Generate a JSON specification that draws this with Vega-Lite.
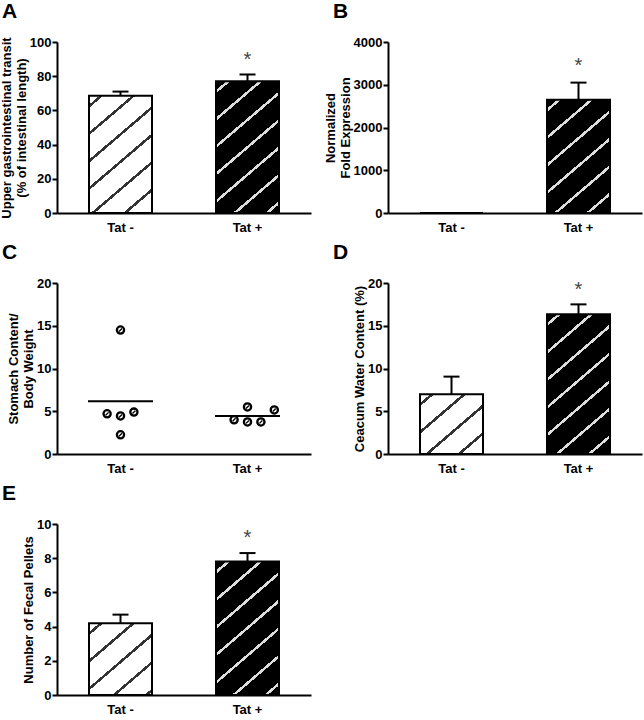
{
  "$schema": "https://vega.github.io/schema/vega-lite/v6.json",
  "padding": {"left": 0, "top": 1, "right": 5, "bottom": 0},
  "columns": 2,
  "align": "all",
  "spacing": {"row": 8, "column": 13},
  "config": {
    "view": {"stroke": null},
    "font": "Liberation Sans",
    "axis": {"domainColor": "black", "domainWidth": 2, "tickColor": "black", "tickWidth": 2, "tickSize": 5, "labelFont": "Liberation Sans", "labelFontWeight": "bold", "labelFontSize": 13, "labelColor": "black", "titleFont": "Liberation Sans", "titleFontWeight": "bold", "titleFontSize": 13, "titleLineHeight": 15, "titleColor": "black", "grid": false, "labelOverlap": false},
    "axisX": {"ticks": false, "labelAngle": 0, "labelPadding": 8, "title": null},
    "axisY": {"labelPadding": 1, "titlePadding": 1, "tickCount": 11},
    "title": {"font": "Liberation Sans", "fontSize": 21, "fontWeight": "bold", "anchor": "start", "frame": "group", "dx": -55, "offset": 14, "color": "black"}
  },
  "concat": [
    {
      "width": 254, "height": 171,
      "title": {"text": "A"},
      "data": {"values": [{"group": "Tat -", "mean": 68.5, "hi": 71}, {"group": "Tat +", "mean": 77, "hi": 81, "star": 89.5}]},
      "encoding": {"x": {"field": "group", "type": "nominal", "sort": ["Tat -", "Tat +"], "scale": {"type": "band", "paddingInner": 0.5, "paddingOuter": 0.25}, "axis": {"title": null}}},
      "layer": [
        {"mark": {"type": "bar", "stroke": "black", "strokeWidth": 2, "width": 63},
         "encoding": {
           "y": {"field": "mean", "type": "quantitative", "scale": {"domain": [0, 100]}, "axis": {"values": [0, 20, 40, 60, 80, 100], "tickCount": 11, "title": ["Upper gastrointestinal transit", "(% of intestinal length)"]}},
           "fill": {"condition": {"test": "datum.group === 'Tat -'", "value": {"gradient": "linear", "x1": 0, "y1": 0, "x2": 0.6346, "y2": 1.3821, "stops": [{"offset":0,"color":"#fff"},{"offset":0.045,"color":"#fff"},{"offset":0.045,"color":"#333"},{"offset":0.062,"color":"#333"},{"offset":0.062,"color":"#fff"},{"offset":0.185,"color":"#fff"},{"offset":0.185,"color":"#333"},{"offset":0.202,"color":"#333"},{"offset":0.202,"color":"#fff"},{"offset":0.325,"color":"#fff"},{"offset":0.325,"color":"#333"},{"offset":0.342,"color":"#333"},{"offset":0.342,"color":"#fff"},{"offset":0.465,"color":"#fff"},{"offset":0.465,"color":"#333"},{"offset":0.482,"color":"#333"},{"offset":0.482,"color":"#fff"},{"offset":0.605,"color":"#fff"},{"offset":0.605,"color":"#333"},{"offset":0.622,"color":"#333"},{"offset":0.622,"color":"#fff"},{"offset":0.745,"color":"#fff"},{"offset":0.745,"color":"#333"},{"offset":0.762,"color":"#333"},{"offset":0.762,"color":"#fff"},{"offset":0.885,"color":"#fff"},{"offset":0.885,"color":"#333"},{"offset":0.902,"color":"#333"},{"offset":0.902,"color":"#fff"},{"offset":1,"color":"#fff"}]}},
                    "value": {"gradient": "linear", "x1": 0, "y1": 0, "x2": 0.5201, "y2": 1.2751, "stops": [{"offset":0,"color":"#000"},{"offset":0.045,"color":"#000"},{"offset":0.045,"color":"#ddd"},{"offset":0.062,"color":"#ddd"},{"offset":0.062,"color":"#000"},{"offset":0.185,"color":"#000"},{"offset":0.185,"color":"#ddd"},{"offset":0.202,"color":"#ddd"},{"offset":0.202,"color":"#000"},{"offset":0.325,"color":"#000"},{"offset":0.325,"color":"#ddd"},{"offset":0.342,"color":"#ddd"},{"offset":0.342,"color":"#000"},{"offset":0.465,"color":"#000"},{"offset":0.465,"color":"#ddd"},{"offset":0.482,"color":"#ddd"},{"offset":0.482,"color":"#000"},{"offset":0.605,"color":"#000"},{"offset":0.605,"color":"#ddd"},{"offset":0.622,"color":"#ddd"},{"offset":0.622,"color":"#000"},{"offset":0.745,"color":"#000"},{"offset":0.745,"color":"#ddd"},{"offset":0.762,"color":"#ddd"},{"offset":0.762,"color":"#000"},{"offset":0.885,"color":"#000"},{"offset":0.885,"color":"#ddd"},{"offset":0.902,"color":"#ddd"},{"offset":0.902,"color":"#000"},{"offset":1,"color":"#000"}]}}
         }},
        {"transform": [{"filter": "isValid(datum.hi)"}], "mark": {"type": "rule", "strokeWidth": 2, "color": "black"}, "encoding": {"y": {"field": "mean", "type": "quantitative"}, "y2": {"field": "hi"}}},
        {"transform": [{"filter": "isValid(datum.hi)"}], "mark": {"type": "point", "shape": "M-1,0L1,0", "filled": false, "stroke": "black", "strokeWidth": 2, "size": 256, "opacity": 1}, "encoding": {"y": {"field": "hi", "type": "quantitative"}}},
        {"transform": [{"filter": "isValid(datum.star)"}], "mark": {"type": "text", "text": "*", "fontSize": 20, "color": "#444", "baseline": "middle"}, "encoding": {"y": {"field": "star", "type": "quantitative"}}}
      ]
    },
    {
      "width": 254, "height": 171,
      "title": {"text": "B"},
      "data": {"values": [{"group": "Tat -", "mean": 0}, {"group": "Tat +", "mean": 2650, "hi": 3050, "star": 3450}]},
      "encoding": {"x": {"field": "group", "type": "nominal", "sort": ["Tat -", "Tat +"], "scale": {"type": "band", "paddingInner": 0.5, "paddingOuter": 0.25}, "axis": {"title": null}}},
      "layer": [
        {"mark": {"type": "bar", "stroke": "black", "strokeWidth": 2, "width": 63},
         "encoding": {
           "y": {"field": "mean", "type": "quantitative", "scale": {"domain": [0, 4000]}, "axis": {"values": [0, 1000, 2000, 3000, 4000], "tickCount": 11, "format": "d", "title": ["Normalized", "Fold Expression"]}},
           "fill": {"condition": {"test": "datum.group === 'Tat -'", "value": "#fff"},
                    "value": {"gradient": "linear", "x1": 0, "y1": 0, "x2": 0.6720, "y2": 1.4136, "stops": [{"offset":0,"color":"#000"},{"offset":0.045,"color":"#000"},{"offset":0.045,"color":"#ddd"},{"offset":0.062,"color":"#ddd"},{"offset":0.062,"color":"#000"},{"offset":0.185,"color":"#000"},{"offset":0.185,"color":"#ddd"},{"offset":0.202,"color":"#ddd"},{"offset":0.202,"color":"#000"},{"offset":0.325,"color":"#000"},{"offset":0.325,"color":"#ddd"},{"offset":0.342,"color":"#ddd"},{"offset":0.342,"color":"#000"},{"offset":0.465,"color":"#000"},{"offset":0.465,"color":"#ddd"},{"offset":0.482,"color":"#ddd"},{"offset":0.482,"color":"#000"},{"offset":0.605,"color":"#000"},{"offset":0.605,"color":"#ddd"},{"offset":0.622,"color":"#ddd"},{"offset":0.622,"color":"#000"},{"offset":0.745,"color":"#000"},{"offset":0.745,"color":"#ddd"},{"offset":0.762,"color":"#ddd"},{"offset":0.762,"color":"#000"},{"offset":0.885,"color":"#000"},{"offset":0.885,"color":"#ddd"},{"offset":0.902,"color":"#ddd"},{"offset":0.902,"color":"#000"},{"offset":1,"color":"#000"}]}}
         }},
        {"transform": [{"filter": "isValid(datum.hi)"}], "mark": {"type": "rule", "strokeWidth": 2, "color": "black"}, "encoding": {"y": {"field": "mean", "type": "quantitative"}, "y2": {"field": "hi"}}},
        {"transform": [{"filter": "isValid(datum.hi)"}], "mark": {"type": "point", "shape": "M-1,0L1,0", "filled": false, "stroke": "black", "strokeWidth": 2, "size": 256, "opacity": 1}, "encoding": {"y": {"field": "hi", "type": "quantitative"}}},
        {"transform": [{"filter": "isValid(datum.star)"}], "mark": {"type": "text", "text": "*", "fontSize": 20, "color": "#444", "baseline": "middle"}, "encoding": {"y": {"field": "star", "type": "quantitative"}}}
      ]
    },
    {
      "width": 254, "height": 171,
      "title": {"text": "C"},
      "data": {"values": [
        {"group": "Tat -", "value": 14.5, "slot": 0},
        {"group": "Tat -", "value": 4.7, "slot": -1},
        {"group": "Tat -", "value": 4.45, "slot": 0},
        {"group": "Tat -", "value": 4.9, "slot": 1},
        {"group": "Tat -", "value": 2.25, "slot": 0},
        {"group": "Tat +", "value": 4.0, "slot": -1},
        {"group": "Tat +", "value": 5.5, "slot": 0},
        {"group": "Tat +", "value": 3.75, "slot": 0},
        {"group": "Tat +", "value": 3.75, "slot": 1},
        {"group": "Tat +", "value": 5.15, "slot": 2}
      ]},
      "encoding": {"x": {"field": "group", "type": "nominal", "sort": ["Tat -", "Tat +"], "scale": {"type": "band", "paddingInner": 0.5, "paddingOuter": 0.25}, "axis": {"title": null}}},
      "layer": [
        {"mark": {"type": "tick", "size": 65, "thickness": 2, "color": "black"},
         "encoding": {"y": {"aggregate": "mean", "field": "value", "type": "quantitative", "scale": {"domain": [0, 20]}, "axis": {"values": [0, 5, 10, 15, 20], "tickCount": 11, "title": ["Stomach Content/", "Body Weight"]}}}},
        {"mark": {"type": "point", "shape": "circle", "filled": true, "fill": "white", "stroke": "black", "strokeWidth": 2.3, "size": 52, "opacity": 1},
         "encoding": {"y": {"field": "value", "type": "quantitative"}, "xOffset": {"field": "slot", "type": "quantitative", "scale": {"domain": [-2.37, 2.37], "zero": false, "nice": false}}}},
        {"mark": {"type": "point", "shape": "M-0.4,0.4L0.4,-0.4", "filled": false, "stroke": "black", "strokeWidth": 1.4, "size": 52, "opacity": 1},
         "encoding": {"y": {"field": "value", "type": "quantitative"}, "xOffset": {"field": "slot", "type": "quantitative", "scale": {"domain": [-2.37, 2.37], "zero": false, "nice": false}}}}
      ]
    },
    {
      "width": 254, "height": 171,
      "title": {"text": "D"},
      "data": {"values": [{"group": "Tat -", "mean": 7.0, "hi": 9.05}, {"group": "Tat +", "mean": 16.35, "hi": 17.5, "star": 19.2}]},
      "encoding": {"x": {"field": "group", "type": "nominal", "sort": ["Tat -", "Tat +"], "scale": {"type": "band", "paddingInner": 0.5, "paddingOuter": 0.25}, "axis": {"title": null}}},
      "layer": [
        {"mark": {"type": "bar", "stroke": "black", "strokeWidth": 2, "width": 63},
         "encoding": {
           "y": {"field": "mean", "type": "quantitative", "scale": {"domain": [0, 20]}, "axis": {"values": [0, 5, 10, 15, 20], "tickCount": 11, "title": "Ceacum Water Content (%)"}},
           "fill": {"condition": {"test": "datum.group === 'Tat -'", "value": {"gradient": "linear", "x1": 0, "y1": 0, "x2": 1.6377, "y2": 1.8138, "stops": [{"offset":0,"color":"#fff"},{"offset":0.045,"color":"#fff"},{"offset":0.045,"color":"#333"},{"offset":0.062,"color":"#333"},{"offset":0.062,"color":"#fff"},{"offset":0.185,"color":"#fff"},{"offset":0.185,"color":"#333"},{"offset":0.202,"color":"#333"},{"offset":0.202,"color":"#fff"},{"offset":0.325,"color":"#fff"},{"offset":0.325,"color":"#333"},{"offset":0.342,"color":"#333"},{"offset":0.342,"color":"#fff"},{"offset":0.465,"color":"#fff"},{"offset":0.465,"color":"#333"},{"offset":0.482,"color":"#333"},{"offset":0.482,"color":"#fff"},{"offset":0.605,"color":"#fff"},{"offset":0.605,"color":"#333"},{"offset":0.622,"color":"#333"},{"offset":0.622,"color":"#fff"},{"offset":0.745,"color":"#fff"},{"offset":0.745,"color":"#333"},{"offset":0.762,"color":"#333"},{"offset":0.762,"color":"#fff"},{"offset":0.885,"color":"#fff"},{"offset":0.885,"color":"#333"},{"offset":0.902,"color":"#333"},{"offset":0.902,"color":"#fff"},{"offset":1,"color":"#fff"}]}},
                    "value": {"gradient": "linear", "x1": 0, "y1": 0, "x2": 0.4738, "y2": 1.2261, "stops": [{"offset":0,"color":"#000"},{"offset":0.045,"color":"#000"},{"offset":0.045,"color":"#ddd"},{"offset":0.062,"color":"#ddd"},{"offset":0.062,"color":"#000"},{"offset":0.185,"color":"#000"},{"offset":0.185,"color":"#ddd"},{"offset":0.202,"color":"#ddd"},{"offset":0.202,"color":"#000"},{"offset":0.325,"color":"#000"},{"offset":0.325,"color":"#ddd"},{"offset":0.342,"color":"#ddd"},{"offset":0.342,"color":"#000"},{"offset":0.465,"color":"#000"},{"offset":0.465,"color":"#ddd"},{"offset":0.482,"color":"#ddd"},{"offset":0.482,"color":"#000"},{"offset":0.605,"color":"#000"},{"offset":0.605,"color":"#ddd"},{"offset":0.622,"color":"#ddd"},{"offset":0.622,"color":"#000"},{"offset":0.745,"color":"#000"},{"offset":0.745,"color":"#ddd"},{"offset":0.762,"color":"#ddd"},{"offset":0.762,"color":"#000"},{"offset":0.885,"color":"#000"},{"offset":0.885,"color":"#ddd"},{"offset":0.902,"color":"#ddd"},{"offset":0.902,"color":"#000"},{"offset":1,"color":"#000"}]}}
         }},
        {"transform": [{"filter": "isValid(datum.hi)"}], "mark": {"type": "rule", "strokeWidth": 2, "color": "black"}, "encoding": {"y": {"field": "mean", "type": "quantitative"}, "y2": {"field": "hi"}}},
        {"transform": [{"filter": "isValid(datum.hi)"}], "mark": {"type": "point", "shape": "M-1,0L1,0", "filled": false, "stroke": "black", "strokeWidth": 2, "size": 256, "opacity": 1}, "encoding": {"y": {"field": "hi", "type": "quantitative"}}},
        {"transform": [{"filter": "isValid(datum.star)"}], "mark": {"type": "text", "text": "*", "fontSize": 20, "color": "#444", "baseline": "middle"}, "encoding": {"y": {"field": "star", "type": "quantitative"}}}
      ]
    },
    {
      "width": 254, "height": 171,
      "title": {"text": "E"},
      "data": {"values": [{"group": "Tat -", "mean": 4.2, "hi": 4.7}, {"group": "Tat +", "mean": 7.8, "hi": 8.3, "star": 9.2}]},
      "encoding": {"x": {"field": "group", "type": "nominal", "sort": ["Tat -", "Tat +"], "scale": {"type": "band", "paddingInner": 0.5, "paddingOuter": 0.25}, "axis": {"title": null}}},
      "layer": [
        {"mark": {"type": "bar", "stroke": "black", "strokeWidth": 2, "width": 63},
         "encoding": {
           "y": {"field": "mean", "type": "quantitative", "scale": {"domain": [0, 10]}, "axis": {"values": [0, 2, 4, 6, 8, 10], "tickCount": 11, "title": "Number of Fecal Pellets"}},
           "fill": {"condition": {"test": "datum.group === 'Tat -'", "value": {"gradient": "linear", "x1": 0, "y1": 0, "x2": 1.3184, "y2": 1.7521, "stops": [{"offset":0,"color":"#fff"},{"offset":0.045,"color":"#fff"},{"offset":0.045,"color":"#333"},{"offset":0.062,"color":"#333"},{"offset":0.062,"color":"#fff"},{"offset":0.185,"color":"#fff"},{"offset":0.185,"color":"#333"},{"offset":0.202,"color":"#333"},{"offset":0.202,"color":"#fff"},{"offset":0.325,"color":"#fff"},{"offset":0.325,"color":"#333"},{"offset":0.342,"color":"#333"},{"offset":0.342,"color":"#fff"},{"offset":0.465,"color":"#fff"},{"offset":0.465,"color":"#333"},{"offset":0.482,"color":"#333"},{"offset":0.482,"color":"#fff"},{"offset":0.605,"color":"#fff"},{"offset":0.605,"color":"#333"},{"offset":0.622,"color":"#333"},{"offset":0.622,"color":"#fff"},{"offset":0.745,"color":"#fff"},{"offset":0.745,"color":"#333"},{"offset":0.762,"color":"#333"},{"offset":0.762,"color":"#fff"},{"offset":0.885,"color":"#fff"},{"offset":0.885,"color":"#333"},{"offset":0.902,"color":"#333"},{"offset":0.902,"color":"#fff"},{"offset":1,"color":"#fff"}]}},
                    "value": {"gradient": "linear", "x1": 0, "y1": 0, "x2": 0.5140, "y2": 1.2689, "stops": [{"offset":0,"color":"#000"},{"offset":0.045,"color":"#000"},{"offset":0.045,"color":"#ddd"},{"offset":0.062,"color":"#ddd"},{"offset":0.062,"color":"#000"},{"offset":0.185,"color":"#000"},{"offset":0.185,"color":"#ddd"},{"offset":0.202,"color":"#ddd"},{"offset":0.202,"color":"#000"},{"offset":0.325,"color":"#000"},{"offset":0.325,"color":"#ddd"},{"offset":0.342,"color":"#ddd"},{"offset":0.342,"color":"#000"},{"offset":0.465,"color":"#000"},{"offset":0.465,"color":"#ddd"},{"offset":0.482,"color":"#ddd"},{"offset":0.482,"color":"#000"},{"offset":0.605,"color":"#000"},{"offset":0.605,"color":"#ddd"},{"offset":0.622,"color":"#ddd"},{"offset":0.622,"color":"#000"},{"offset":0.745,"color":"#000"},{"offset":0.745,"color":"#ddd"},{"offset":0.762,"color":"#ddd"},{"offset":0.762,"color":"#000"},{"offset":0.885,"color":"#000"},{"offset":0.885,"color":"#ddd"},{"offset":0.902,"color":"#ddd"},{"offset":0.902,"color":"#000"},{"offset":1,"color":"#000"}]}}
         }},
        {"transform": [{"filter": "isValid(datum.hi)"}], "mark": {"type": "rule", "strokeWidth": 2, "color": "black"}, "encoding": {"y": {"field": "mean", "type": "quantitative"}, "y2": {"field": "hi"}}},
        {"transform": [{"filter": "isValid(datum.hi)"}], "mark": {"type": "point", "shape": "M-1,0L1,0", "filled": false, "stroke": "black", "strokeWidth": 2, "size": 256, "opacity": 1}, "encoding": {"y": {"field": "hi", "type": "quantitative"}}},
        {"transform": [{"filter": "isValid(datum.star)"}], "mark": {"type": "text", "text": "*", "fontSize": 20, "color": "#444", "baseline": "middle"}, "encoding": {"y": {"field": "star", "type": "quantitative"}}}
      ]
    }
  ]
}
